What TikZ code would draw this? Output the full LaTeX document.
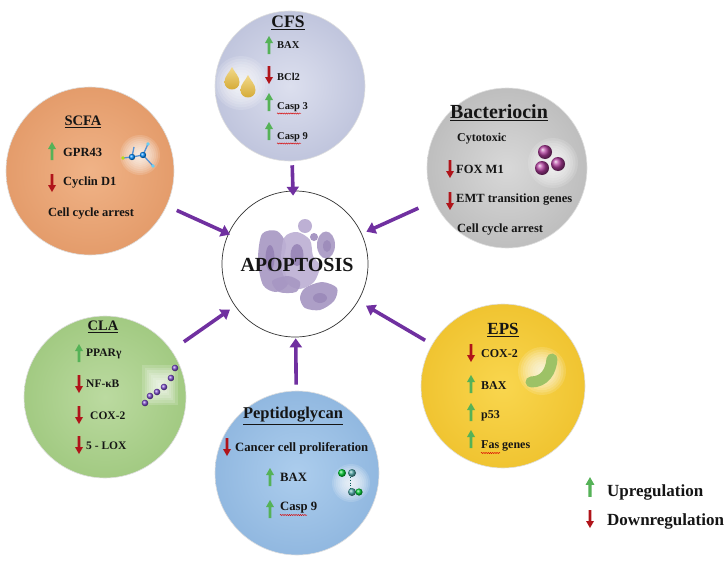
\documentclass[tikz,border=0pt]{standalone}
\usepackage{fontspec}
\setmainfont{Liberation Serif}
\usetikzlibrary{arrows.meta,decorations.pathmorphing}
\definecolor{txt}{HTML}{151515}
\definecolor{upgreen}{HTML}{55B257}
\definecolor{downred}{HTML}{B0141A}
\definecolor{feedpurple}{HTML}{7030A0}
\definecolor{cfsin}{HTML}{DCDFEE}\definecolor{cfsout}{HTML}{C0C5DD}
\definecolor{scfain}{HTML}{F0B387}\definecolor{scfaout}{HTML}{E49C6B}
\definecolor{bactin}{HTML}{D8D8D8}\definecolor{bactout}{HTML}{BEBEBE}
\definecolor{clain}{HTML}{BBDAA0}\definecolor{claout}{HTML}{A2CA82}
\definecolor{peptin}{HTML}{ACCDED}\definecolor{peptout}{HTML}{91B8E0}
\definecolor{epsin}{HTML}{F9D64E}\definecolor{epsout}{HTML}{F0C431}
\definecolor{dropA}{HTML}{F2D98A}\definecolor{dropB}{HTML}{D2A62E}
\definecolor{apoL}{HTML}{BDB0D4}\definecolor{apoM}{HTML}{A797C3}\definecolor{apoD}{HTML}{8F7BB0}
\definecolor{bean}{HTML}{9DC266}
\definecolor{bactball}{HTML}{B03C9C}
\newcommand\myfs[1]{\fontsize{#1}{#1}\selectfont}
\newcommand\myglow[3]{\foreach \k in {1,...,10}{\fill[white,opacity=0.14] (#1,#2) circle ({#3*\k/10});}}
\newcommand\mydrop[3]{%
 \shade[top color=dropA, bottom color=dropB] (#1,{#2-2*#3}) .. controls ({#1+0.3*#3},{#2-1.3*#3}) and ({#1+#3},{#2-0.8*#3}) .. ({#1+#3},#2) .. controls ({#1+#3},{#2+1.33*#3}) and ({#1-#3},{#2+1.33*#3}) .. ({#1-#3},#2) .. controls ({#1-#3},{#2-0.8*#3}) and ({#1-0.3*#3},{#2-1.3*#3}) .. (#1,{#2-2*#3}) -- cycle;}
\tikzset{
  bubble/.style={circle, inner sep=0pt, draw=black!13, line width=0.6pt},
  feed/.style={draw=feedpurple, line width=3.6pt, -{Triangle[length=9pt,width=12pt]}},
  ttl/.style={inner sep=0pt, text=txt, font=\myfs{#1}\bfseries},
  itm/.style={anchor=west, inner sep=0pt, text=txt, font=\myfs{#1}\bfseries},
  uparr/.pic={\fill[upgreen] (-1.4,9) -- (-1.4,-2) -- (-4,-2) -- (0,-9) -- (4,-2) -- (1.4,-2) -- (1.4,9) -- cycle;},
  downarr/.pic={\fill[downred] (-1.4,-9) -- (-1.4,2) -- (-4,2) -- (0,9) -- (4,2) -- (1.4,2) -- (1.4,-9) -- cycle;},
  squig/.style={draw=red!85!black, line width=0.45pt, decorate, decoration={snake, amplitude=0.6pt, segment length=2.2pt}},
}
\begin{document}
\begin{tikzpicture}[x=1pt,y=-1pt]
\useasboundingbox (0,0) rectangle (728,562);
\fill[white] (0,0) rectangle (728,562);

% ---- bubbles ----
\node[bubble, minimum size=150pt, inner color=cfsin, outer color=cfsout] (cfs) at (290,86) {};
\node[bubble, minimum size=168pt, inner color=scfain, outer color=scfaout] (scfa) at (90,171) {};
\node[bubble, minimum size=160pt, inner color=bactin, outer color=bactout] (bact) at (507,168) {};
\node[bubble, minimum size=162pt, inner color=clain, outer color=claout] (cla) at (105,397) {};
\node[bubble, minimum size=164pt, inner color=peptin, outer color=peptout] (pept) at (297,473) {};
\node[bubble, minimum size=164pt, inner color=epsin, outer color=epsout] (eps) at (503,386) {};
\node[circle, draw=black!80, line width=0.7pt, fill=white, minimum size=146pt, inner sep=0pt] (apo) at (295,264) {};

% ---- feed arrows ----
\draw[feed, shorten <=4pt, shorten >=-5pt] (cfs) -- (apo);
\draw[feed, shorten <=11pt, shorten >=-2pt] (scfa) -- (apo);
\draw[feed, shorten <=17pt, shorten >=5pt] (bact) -- (apo);
\draw[feed, shorten <=15pt, shorten >=6pt] (cla) -- (apo);
\draw[feed, shorten <=6pt, shorten >=1pt] (pept) -- (apo);
\draw[feed, shorten <=8pt, shorten >=9pt] (eps) -- (apo);

% ---- apoptosis cells ----
\fill[apoM, opacity=0.9] plot[smooth cycle] coordinates {(262,234) (277,231) (286,244) (283,264) (288,284) (276,292) (263,285) (258,260)};
\fill[apoL, opacity=0.92] plot[smooth cycle] coordinates {(284,238) (297,232) (310,240) (313,256) (320,266) (314,282) (300,289) (288,284) (281,266)};
\fill[apoM, opacity=0.9] (326,245) ellipse (9 and 13.5);
\fill[apoM, opacity=0.9] plot[smooth cycle] coordinates {(272,281) (288,276) (300,282) (296,292) (279,292)};
\fill[apoM, opacity=0.92] plot[smooth cycle] coordinates {(305,288) (322,282) (337,288) (334,301) (320,310) (305,308) (300,298)};
\fill[apoL] (305,226) circle (7);
\fill[apoM] (314,237) circle (4);
\fill[apoD, opacity=0.75] (270,258) ellipse (4.5 and 13);
\fill[apoD, opacity=0.75] (297,255) ellipse (6.5 and 11);
\fill[apoD, opacity=0.55] (320,298) ellipse (7 and 5);
\fill[apoD, opacity=0.5] (327,246) ellipse (4 and 6);

% ---- icons ----
\myglow{241}{83}{27}
\mydrop{232}{82}{7.5}
\mydrop{248}{90}{7.5}

\myglow{140}{155}{20}
\draw[line width=1.3pt, color=cyan!55!blue!70] (123,158) -- (132,157) -- (143,155) -- (148,144);
\draw[line width=1.3pt, color=cyan!55!blue!70] (143,155) -- (153,166);
\draw[line width=1.3pt, color=cyan!55!blue!70] (132,157) -- (134,147);
\fill[yellow!70!green] (123,158) circle (1.8);
\shade[ball color=blue!45!cyan] (132,157) circle (3.2);
\shade[ball color=blue!45!cyan] (143,155) circle (3.2);
\fill[cyan!60] (153,166) circle (1.8);
\fill[cyan!60] (148,144) circle (1.8);

\myglow{553}{163}{25}
\shade[ball color=bactball] (545,152) circle (7);
\shade[ball color=bactball] (542,168) circle (7);
\shade[ball color=bactball] (558,164) circle (7);

\foreach \k in {1,...,8}{\fill[white,opacity=0.16] ({160-2.2*\k},{385-2.5*\k}) rectangle ({160+2.2*\k},{385+2.5*\k});}
\foreach \p in {(145,403),(150,396),(157,392),(164,387),(171,378),(175,368)}{\shade[ball color=blue!45!violet!70] \p circle (3.3);}

\myglow{351}{483}{19}
\draw[line width=0.8pt, dotted, color=teal!70!black] (350,477) -- (350,489);
\shade[ball color=green!60!teal] (342,473) circle (4);
\shade[ball color=teal!70] (352,473) circle (4);
\shade[ball color=teal!70] (352,492) circle (4);
\shade[ball color=green!60!teal] (359,492) circle (3.6);

\myglow{542}{371}{24}
\draw[line width=11pt, line cap=round, color=bean] (531,382) .. controls (545,382) and (551,371) .. (552,359);

% ---- texts ----
\node[ttl=20] (apoT) at (297,265) {APOPTOSIS};

\node[ttl=17.5] (cfsT) at (288,23) {\underline{CFS}};
\pic at (269,45) {uparr};   \node[itm=10.5] (cfs1) at (277,45) {BAX};
\pic at (269,75) {downarr}; \node[itm=10.5] (cfs2) at (277,77) {BCl2};
\pic at (269,102) {uparr};  \node[itm=10.5] (cfs3) at (277,107) {Casp 3};
\pic at (269,131) {uparr};  \node[itm=10.5] (cfs4) at (277,137) {Casp 9};
\draw[squig] (277,113.5) -- (301,113.5);
\draw[squig] (277,143.5) -- (301,143.5);

\node[ttl=14.5] (scfaT) at (83,122) {\underline{SCFA}};
\pic at (52,151) {uparr};   \node[itm=12.5] (scfa1) at (63,152) {GPR43};
\pic at (52,183) {downarr}; \node[itm=12.5] (scfa2) at (63,183) {Cyclin D1};
\node[ttl=12.5] (scfa3) at (91,214) {Cell cycle arrest};

\node[ttl=20] (bactT) at (499,113) {\underline{Bacteriocin}};
\node[itm=12] (bact1) at (457,139) {Cytotoxic};
\pic at (450,169) {downarr}; \node[itm=12.5] (bact2) at (456,169) {FOX M1};
\pic at (450,201) {downarr}; \node[itm=12.5] (bact3) at (456,200) {EMT transition genes};
\node[itm=12.5] (bact4) at (457,230) {Cell cycle arrest};

\node[ttl=14.5] (claT) at (103,327) {\underline{CLA}};
\pic at (79,353) {uparr};   \node[itm=11.5] (cla1) at (86,354) {PPARγ};
\pic at (79,384) {downarr}; \node[itm=11.5] (cla2) at (86,384) {NF-κB};
\pic at (79,415) {downarr}; \node[itm=11.5] (cla3) at (90,416) {COX-2};
\pic at (79,445) {downarr}; \node[itm=11.5] (cla4) at (86,446) {5 - LOX};

\node[ttl=16.5] (peptT) at (293,416) {\underline{Peptidoglycan}};
\pic at (227,447) {downarr}; \node[itm=12.7] (pept1) at (235,448) {Cancer cell proliferation};
\pic at (270,477) {uparr};   \node[itm=12.7] (pept2) at (280,477) {BAX};
\pic at (270,509) {uparr};   \node[itm=12.7] (pept3) at (280,508) {Casp 9};
\draw[squig] (280,515) -- (307,515);

\node[ttl=17] (epsT) at (503,330) {\underline{EPS}};
\pic at (471,353) {downarr}; \node[itm=12] (eps1) at (481,354) {COX-2};
\pic at (471,384) {uparr};   \node[itm=12] (eps2) at (481,386) {BAX};
\pic at (471,412) {uparr};   \node[itm=12] (eps3) at (481,416) {p53};
\pic at (471,439) {uparr};   \node[itm=12] (eps4) at (481,446) {Fas genes};
\draw[squig] (481,453) -- (500,453);

% ---- legend ----
\pic[scale=1.1] at (590,487) {uparr};
\node[itm=17] (legUp) at (607,492) {Upregulation};
\pic at (590,519) {downarr};
\node[itm=17] (legDown) at (607,521) {Downregulation};
\end{tikzpicture}
\end{document}
